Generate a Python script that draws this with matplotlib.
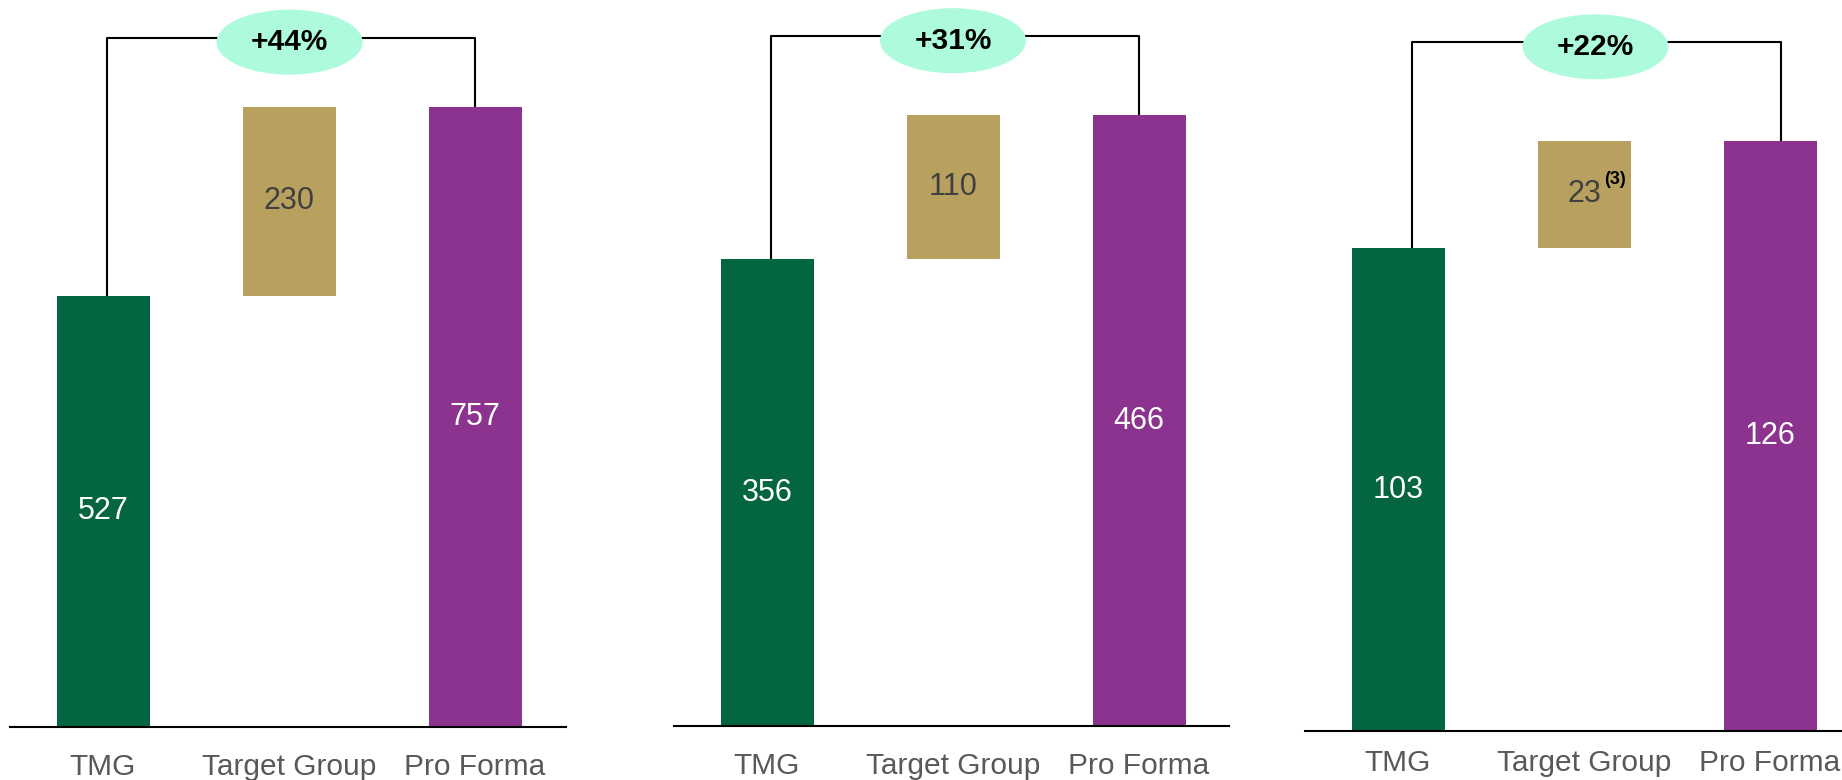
import matplotlib
matplotlib.use('Agg')
import matplotlib.pyplot as plt
from matplotlib.patches import Ellipse
from matplotlib.transforms import blended_transform_factory

# datos de las tres cascadas
categories = ['TMG', 'Target Group', 'Pro Forma']
tmg = [527, 356, 103]
target = [230, 110, 23]
pro_forma = [757, 466, 126]
growth = ['+44%', '+31%', '+22%']
footnotes = ['', '', '(3)']

# colores
c_tmg = '#036640'
c_target = '#b8a05e'
c_pf = '#8c338f'
c_pill = '#adfbdc'

# layout en pixeles de la figura (1842x780)
W, H = 1842, 780
panels_px = [(10, 566, 727), (674, 1229, 726), (1305, 1842, 731)]  # izq, der, linea base
ymax = [888, 554, 156]
bracket_frac = [0.948, 0.950, 0.942]
pill_frac = [0.942, 0.944, 0.936]
left_shift = [0.024, 0.019, 0.075]   # corrimiento del corchete (unidades de x)
right_shift = [0.0, 0.0, 0.057]
pill_shift = [0.003, 0.0, 0.062]
label_pad = [19, 19, 13]
step_px = 186  # distancia entre barras

plt.rcParams['font.family'] = ['Liberation Sans', 'DejaVu Sans']

fig = plt.figure(figsize=(W / 100, H / 100), dpi=100)

for i in range(3):
    x0, x1, base = panels_px[i]
    ax = fig.add_axes([x0 / W, 1 - base / H, (x1 - x0) / W, base / H])
    ax.set_xlim(-0.5, -0.5 + (x1 - x0) / step_px)
    ax.set_ylim(0, ymax[i])

    heights = [tmg[i], target[i], pro_forma[i]]
    bottoms = [0, tmg[i], 0]
    ax.bar(range(3), heights, bottom=bottoms, width=0.5,
           color=[c_tmg, c_target, c_pf], zorder=2)

    # etiquetas de valor
    ax.text(0, tmg[i] / 2, str(tmg[i]), ha='center', va='center',
            color='white', fontsize=22, zorder=3)
    t = ax.text(1, tmg[i] + target[i] / 2, str(target[i]), ha='center', va='center',
                color='#404040', fontsize=22, zorder=3)
    ax.text(2, pro_forma[i] / 2, str(pro_forma[i]), ha='center', va='center',
            color='white', fontsize=22, zorder=3)
    if footnotes[i]:
        ax.annotate(footnotes[i], xy=(1, 1), xycoords=t, xytext=(2, 6),
                    textcoords='offset points', ha='left', va='top',
                    fontsize=13, fontweight='bold', color='black', zorder=3)

    # corchete con el crecimiento
    yb = ymax[i] * bracket_frac[i]
    xl = 0 + left_shift[i]
    xr = 2 + right_shift[i]
    ax.plot([xl, xl, xr, xr], [tmg[i], yb, yb, pro_forma[i]], color='black',
            lw=1.5, zorder=1, clip_on=False)
    tr = blended_transform_factory(ax.transData, ax.transAxes)
    xp = 1 + pill_shift[i]
    ax.add_patch(Ellipse((xp, pill_frac[i]), 146 / step_px, 65 / base,
                         transform=tr, facecolor=c_pill, edgecolor='none',
                         zorder=4, clip_on=False))
    ax.text(xp, pill_frac[i], growth[i], transform=tr, ha='center', va='center',
            fontsize=21.5, fontweight='bold', color='black', zorder=5)

    ax.set_xticks(range(3))
    ax.set_xticklabels(categories, fontsize=21.5, color='#595959')
    ax.tick_params(axis='x', length=0, pad=label_pad[i])
    ax.set_yticks([])
    for s in ['top', 'left', 'right']:
        ax.spines[s].set_visible(False)
    ax.spines['bottom'].set_linewidth(1.5)
    ax.spines['bottom'].set_color('black')

fig.savefig('out.png', dpi=100)
